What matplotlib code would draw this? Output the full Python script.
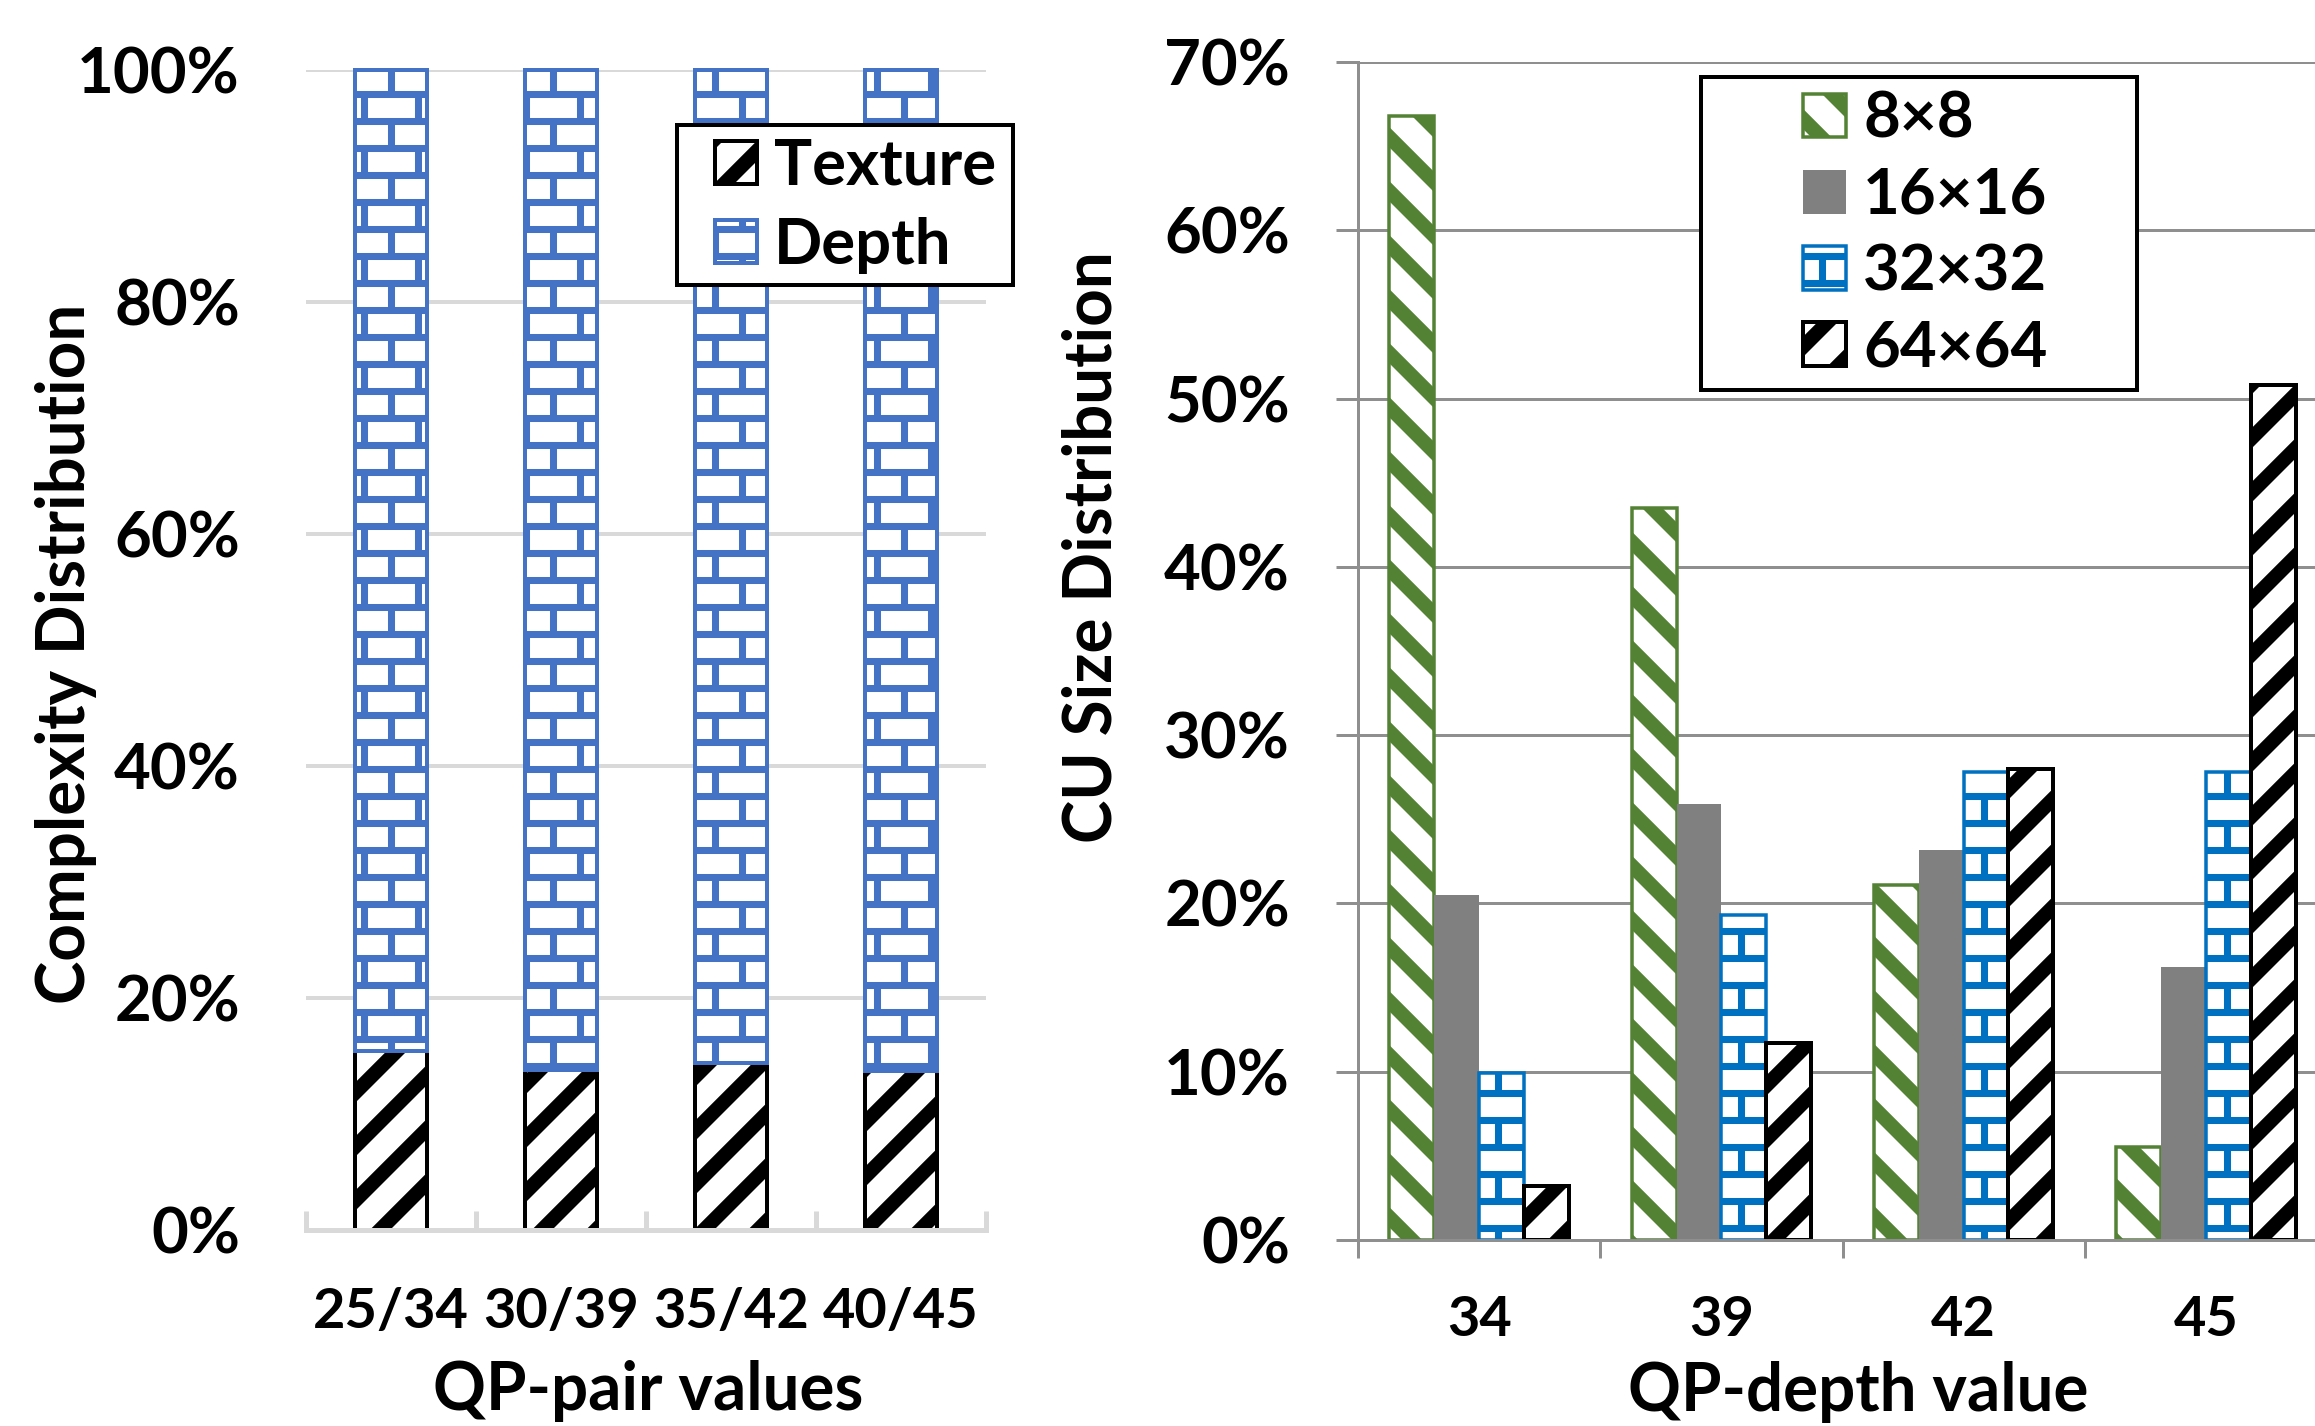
import warnings
warnings.filterwarnings('ignore')
import numpy as np
import matplotlib
matplotlib.use('Agg')
import matplotlib.pyplot as plt
import matplotlib.hatch as mhatch
from matplotlib.path import Path
from matplotlib.patches import Rectangle

# ---------------- data ----------------
pair_labels = ["25/34", "30/39", "35/42", "40/45"]
texture_share = [15.4, 13.8, 14.4, 13.7]
depth_share = [84.6, 86.2, 85.6, 86.3]

depth_qp_labels = ["34", "39", "42", "45"]
cu_8x8 = [66.8, 43.5, 21.1, 5.5]
cu_16x16 = [20.5, 25.9, 23.2, 16.2]
cu_32x32 = [9.9, 19.3, 27.8, 27.8]
cu_64x64 = [3.2, 11.7, 28.0, 50.8]

left_yticks = [0, 20, 40, 60, 80, 100]
right_yticks = [0, 10, 20, 30, 40, 50, 60, 70]

# ---------------- setup ----------------
DPI = 54
W, H = 2315, 1426


def pt(px):
    return px * 72.0 / DPI


# custom Excel-like fill patterns (one hatch tile = DPI pixels)
def _rect(x0, y0, x1, y1):
    return [(x0, y0), (x1, y0), (x1, y1), (x0, y1)]


class _PolyHatch(mhatch.HatchPatternBase):
    char = ''
    polys = ()

    def __init__(self, hatch, density):
        self.active = bool(self.char) and (self.char in hatch)
        self.num_vertices = sum(len(p) + 1 for p in self.polys) if self.active else 0

    def set_vertices_and_codes(self, vertices, codes):
        i = 0
        for p in self.polys:
            n = len(p)
            vertices[i:i + n] = p
            vertices[i + n] = p[0]
            codes[i] = Path.MOVETO
            codes[i + 1:i + n] = Path.LINETO
            codes[i + n] = Path.CLOSEPOLY
            i += n + 1


_bt = 0.13 / 2
_st = 0.375


class BrickHatch(_PolyHatch):
    char = 'B'
    polys = [_rect(-0.1, 0.25 - _bt, 1.1, 0.25 + _bt),
             _rect(-0.1, 0.75 - _bt, 1.1, 0.75 + _bt),
             _rect(0.25 - _bt, 0.25, 0.25 + _bt, 0.75),
             _rect(0.75 - _bt, 0.75, 0.75 + _bt, 1.1),
             _rect(0.75 - _bt, -0.1, 0.75 + _bt, 0.25)]


class WideUpHatch(_PolyHatch):
    char = 'N'
    polys = [[(-0.2, c - 0.2), (1.2, c + 1.2), (1.2, c + 1.2 + _st), (-0.2, c - 0.2 + _st)]
             for c in (-1, 0, 1)]


class WideDownHatch(_PolyHatch):
    char = 'S'
    polys = [[(-0.2, c + 0.2), (1.2, c - 1.2), (1.2, c - 1.2 + _st), (-0.2, c + 0.2 + _st)]
             for c in (0, 1, 2)]


mhatch._hatch_types.extend([BrickHatch, WideUpHatch, WideDownHatch])

plt.rcParams['font.family'] = ['Lato', 'DejaVu Sans']
plt.rcParams['font.weight'] = 'bold'
plt.rcParams['axes.labelweight'] = 'bold'
plt.rcParams['hatch.linewidth'] = 0.01

FS_Y = pt(63.5)
FS_X = pt(56)
FS_LAB = pt(65.5)
FS_LEG = pt(63.5)

LIGHT = '#D9D9D9'
GRAY = '#8F8F8F'

fig = plt.figure(figsize=(W / DPI, H / DPI), dpi=DPI)
fig.patch.set_facecolor('white')

# ---------------- left chart ----------------
axL = fig.add_axes([306 / W, (H - 1230) / H, 680 / W, 1160 / H])
xl = np.arange(len(pair_labels))
axL.bar(xl, texture_share, width=0.42, color='white', edgecolor='black',
        hatch='N', linewidth=pt(4), label='Texture', zorder=2, clip_on=False)
axL.bar(xl, depth_share, bottom=texture_share, width=0.42, color='white',
        edgecolor='#4472C4', hatch='B', linewidth=pt(4), label='Depth',
        zorder=2, clip_on=False)
axL.set_xlim(-0.5, len(pair_labels) - 0.5)
axL.set_ylim(0, 100)
axL.set_yticks(left_yticks, labels=[f"{v}%" for v in left_yticks])
bounds = np.arange(len(pair_labels) + 1) - 0.5
axL.set_xticks(bounds, labels=[''] * len(bounds))
axL.set_xticks(xl, labels=pair_labels, minor=True)
axL.tick_params(axis='y', length=0, pad=pt(66), labelsize=FS_Y)
axL.tick_params(axis='x', which='major', direction='in', length=pt(19),
                width=pt(5), color=LIGHT)
axL.tick_params(axis='x', which='minor', length=0, pad=pt(57), labelsize=FS_X)
for s in ['top', 'right', 'left']:
    axL.spines[s].set_visible(False)
axL.spines['bottom'].set_color(LIGHT)
axL.spines['bottom'].set_linewidth(pt(5))
axL.yaxis.grid(True, color=LIGHT, linewidth=pt(4))
axL.set_axisbelow(True)
axL.set_ylabel('Complexity Distribution', fontsize=FS_LAB)
axL.yaxis.set_label_coords(-0.307, 0.497)
axL.set_xlabel('QP-pair values', fontsize=FS_LAB)
axL.xaxis.set_label_coords(0.503, -0.112)

axL.add_patch(Rectangle((0.5456, 0.8147), 1.0397 - 0.5456, 0.9526 - 0.8147,
                        transform=axL.transAxes, facecolor='white',
                        edgecolor='black', linewidth=pt(4), clip_on=False,
                        zorder=4))
legL = axL.legend(loc='center left', bbox_to_anchor=(0.601, 0.883),
                  frameon=False, fontsize=FS_LEG, handlelength=0.66,
                  handleheight=0.66, handletextpad=0.28, labelspacing=0.35,
                  borderpad=0, borderaxespad=0)
legL.set_zorder(5)

# ---------------- right chart ----------------
axR = fig.add_axes([1358 / W, (H - 1240) / H, 969 / W, 1178 / H])
xr = np.arange(len(depth_qp_labels))
bw = 0.185
series = [
    (cu_8x8, 'white', '#548235', 'S', '8×8', pt(3.5)),
    (cu_16x16, '#808080', '#808080', None, '16×16', 0),
    (cu_32x32, 'white', '#0070C0', 'B', '32×32', pt(3.5)),
    (cu_64x64, 'white', 'black', 'N', '64×64', pt(4)),
]
for i, (vals, fc, ec, hatch, lab, lw) in enumerate(series):
    axR.bar(xr + (i - 1.5) * bw, vals, width=bw, color=fc, edgecolor=ec,
            hatch=hatch, linewidth=lw, label=lab, zorder=2)
axR.set_xlim(-0.5, len(depth_qp_labels) - 0.5)
axR.set_ylim(0, 70)
axR.set_yticks(right_yticks, labels=[f"{v}%" for v in right_yticks])
boundsR = np.arange(len(depth_qp_labels) + 1) - 0.5
axR.set_xticks(boundsR, labels=[''] * len(boundsR))
axR.set_xticks(xr, labels=depth_qp_labels, minor=True)
axR.tick_params(axis='y', direction='out', length=pt(22), width=pt(3),
                color=GRAY, pad=pt(46), labelsize=FS_Y)
axR.tick_params(axis='x', which='major', direction='out', length=pt(18),
                width=pt(3), color=GRAY)
axR.tick_params(axis='x', which='minor', length=0, pad=pt(55), labelsize=FS_X)
for s in ['top', 'right']:
    axR.spines[s].set_visible(False)
for s in ['left', 'bottom']:
    axR.spines[s].set_color(GRAY)
    axR.spines[s].set_linewidth(pt(3))
axR.yaxis.grid(True, color=GRAY, linewidth=pt(3))
axR.set_axisbelow(True)
axR.set_ylabel('CU Size Distribution', fontsize=FS_LAB)
axR.yaxis.set_label_coords(-0.2415, 0.588)
axR.set_xlabel('QP-depth value', fontsize=FS_LAB)
axR.xaxis.set_label_coords(0.516, -0.1025)

axR.add_patch(Rectangle((0.354, 0.7216), 0.8039 - 0.354, 0.9873 - 0.7216,
                        transform=axR.transAxes, facecolor='white',
                        edgecolor='black', linewidth=pt(4), clip_on=False,
                        zorder=4))
legR = axR.legend(loc='center left', bbox_to_anchor=(0.4592, 0.8544),
                  frameon=False, fontsize=FS_LEG, handlelength=0.68,
                  handleheight=0.68, handletextpad=0.27, labelspacing=0.3,
                  borderpad=0, borderaxespad=0)
legR.set_zorder(5)

fig.savefig('out.png', dpi=DPI, facecolor='white')
